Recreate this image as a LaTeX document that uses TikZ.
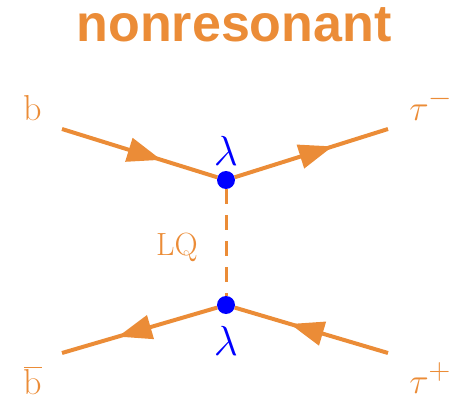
\documentclass[tikz,border=0pt]{standalone}
\usepackage{fontspec}
\newfontfamily\titlefont{Liberation Sans}
\usetikzlibrary{arrows.meta,decorations.markings}
\definecolor{lqorange}{RGB}{235,140,55}
\definecolor{lqblue}{RGB}{0,0,255}
\tikzset{
  fermion/.style={draw=lqorange, line width=4pt, postaction={decorate},
    decoration={markings, mark=at position 0.64 with {\arrow[lqorange]{Triangle[length=34pt,width=24pt]}}}},
  scalar/.style={draw=lqorange, line width=3pt, dash pattern=on 15pt off 11pt},
  vertex/.style={circle, fill=lqblue, inner sep=0pt, minimum size=18pt},
  lab/.style={text=lqorange, inner sep=0pt, font=\Huge, scale=1.45},
  coup/.style={text=lqblue, inner sep=0pt, font=\Huge, scale=1.69},
  ttl/.style={text=lqorange, inner sep=0pt, font=\titlefont\bfseries\fontsize{52}{56}\selectfont}
}
\begin{document}
\begin{tikzpicture}[x=1pt,y=1pt]
\useasboundingbox (0,0) rectangle (464,400);
\node[ttl, anchor=base] (title) at (234,358) {nonresonant};
\coordinate (b) at (62,271);
\coordinate (taum) at (388,271);
\coordinate (bbar) at (62,47);
\coordinate (taup) at (388,47);
\node[vertex] (vtop) at (226,220) {};
\node[vertex] (vbot) at (226,95) {};
\draw[scalar] (vtop) -- (vbot);
\draw[fermion] (b) -- (vtop);
\draw[fermion] (vtop) -- (taum);
\draw[fermion] (vbot) -- (bbar);
\draw[fermion] (taup) -- (vbot);
\node[lab, anchor=base] (lb) at (33,280) {b};
\node[lab, anchor=base west] (ltaum) at (409,280) {$\tau^-$};
\node[lab, anchor=base] (lbbar) at (33,6) {$\overline{\mathrm{b}}$};
\node[lab, anchor=base west] (ltaup) at (409,7) {$\tau^+$};
\node[lab, anchor=base, scale=0.89] (llq) at (177,145) {LQ};
\node[coup, anchor=base] (lamtop) at (226,235) {$\lambda$};
\node[coup, anchor=base] (lambot) at (226,45) {$\lambda$};
\end{tikzpicture}
\end{document}
